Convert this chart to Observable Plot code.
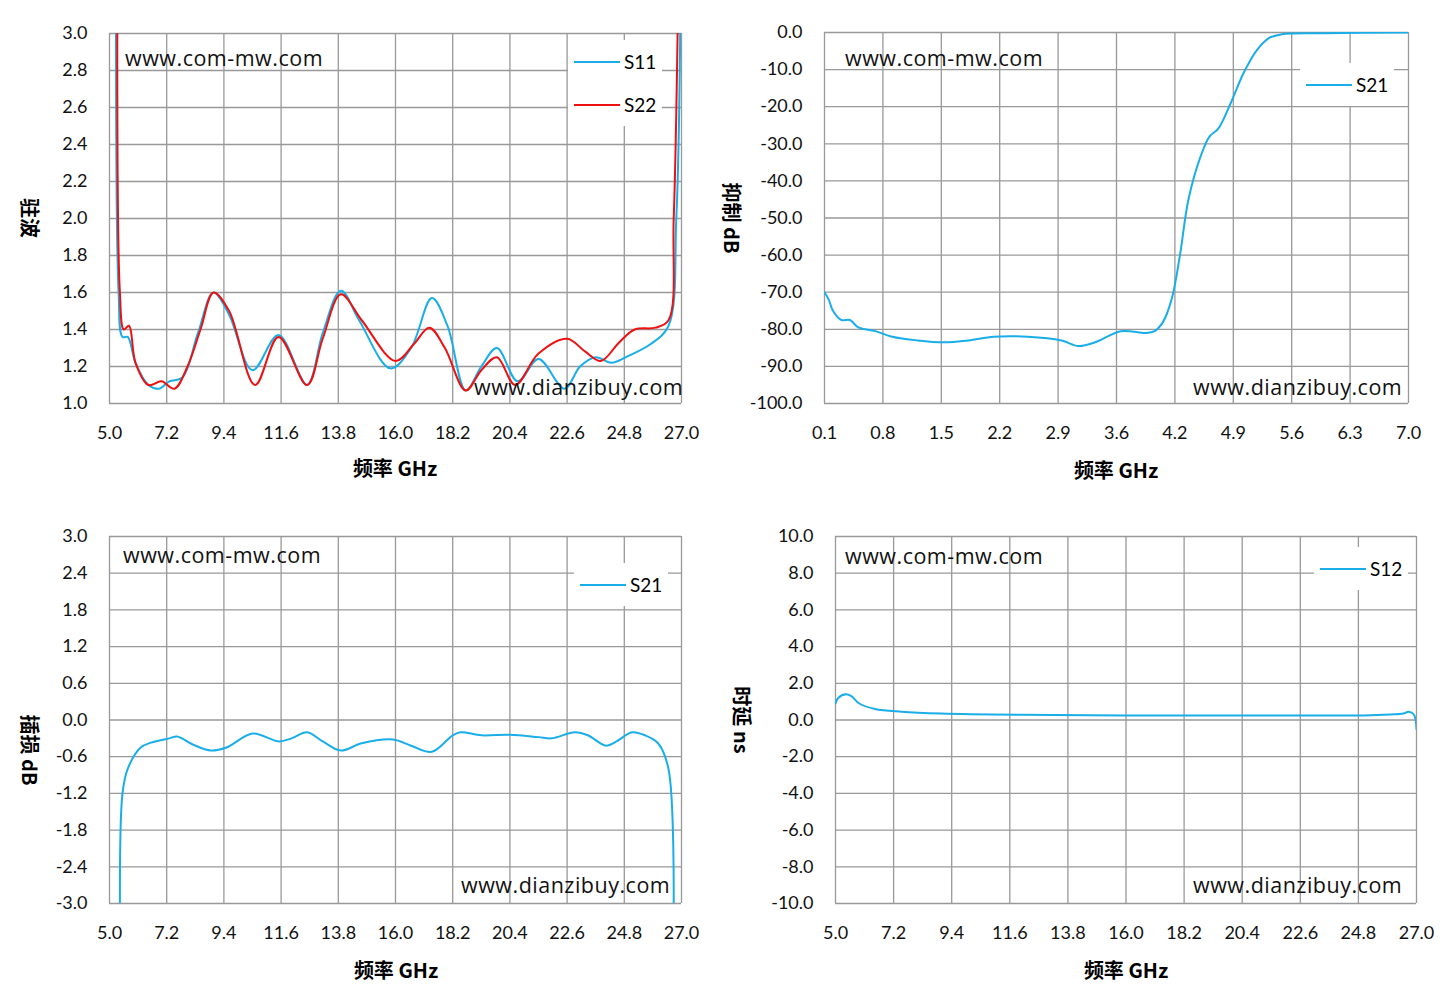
<!DOCTYPE html>
<html><head><meta charset="utf-8">
<script src="https://cdn.jsdelivr.net/npm/d3@7"></script>
<script src="https://cdn.jsdelivr.net/npm/@observablehq/plot@0.6"></script>
<style>
body{margin:0;background:#fff;font-family:Lato,"Noto Sans CJK SC",sans-serif}
#c{position:relative;width:1444px;height:995px}
.p{position:absolute}
.t{position:absolute;font-size:21.5px;color:#111;white-space:nowrap;font-family:"Open Sans",Lato,sans-serif;letter-spacing:0.5px}
.xl{position:absolute;font-size:20px;font-weight:bold;transform:translateX(-50%);white-space:nowrap;font-family:"Noto Sans CJK SC",sans-serif}
.yl{position:absolute;font-size:20px;font-weight:bold;transform:translate(-50%,-50%) rotate(90deg);white-space:nowrap;font-family:"Noto Sans CJK SC",sans-serif}
.lg{position:absolute;background:#fff;font-size:19px;font-family:Lato,sans-serif}
.lg div{display:flex;align-items:center;height:43px}
.lg span.l{display:inline-block;width:46px;height:0;border-top:2px solid;margin-right:4px}
</style></head><body><div id="c"></div>
<script>
// Panel 1: VSWR
const f11=[5.25,5.35,5.5,5.7,6.0,6.5,6.9,7.3,7.8,8.4,9.0,9.6,10.5,11.5,12.6,13.2,13.9,14.6,15.8,16.6,17.4,18.0,18.7,19.3,19.9,20.7,21.5,22.5,23.1,23.7,24.3,25.0,25.8,26.5,26.8,26.95];
const s11=[3.0,1.6,1.36,1.36,1.22,1.1,1.08,1.12,1.14,1.38,1.6,1.48,1.18,1.37,1.1,1.38,1.61,1.45,1.19,1.3,1.57,1.42,1.07,1.2,1.3,1.12,1.24,1.08,1.2,1.25,1.22,1.26,1.32,1.42,2.0,3.0];
const f22=[5.3,5.4,5.55,5.75,6.0,6.5,7.0,7.5,8.0,8.5,9.0,9.6,10.6,11.5,12.6,13.2,13.9,14.7,16.0,16.7,17.3,17.9,18.7,19.3,19.9,20.6,21.5,22.6,23.3,23.9,24.6,25.2,26.0,26.5,26.7,26.85];
const s22=[3.0,1.6,1.4,1.42,1.22,1.1,1.12,1.08,1.2,1.4,1.6,1.5,1.1,1.36,1.1,1.35,1.59,1.45,1.23,1.32,1.41,1.3,1.07,1.18,1.25,1.1,1.27,1.35,1.28,1.23,1.33,1.4,1.41,1.45,2.0,3.0];
// Panel 2: rejection
const f21r=[0.1,0.15,0.2,0.3,0.4,0.5,0.7,0.9,1.2,1.5,1.8,2.1,2.5,2.9,3.1,3.3,3.6,3.9,4.0,4.1,4.2,4.3,4.4,4.55,4.65,4.75,4.9,5.05,5.2,5.35,5.5,6.0,7.0];
const s21r=[-70,-72,-75,-77.5,-77.5,-79.5,-80.5,-82,-83,-83.5,-83,-82,-82,-83,-84.5,-83.5,-80.5,-81,-80.5,-78,-72,-60,-45,-33,-28,-26,-19,-11,-5,-1.5,-0.5,-0.2,0];
// Panel 3: insertion loss
const f21=[5.4,5.5,5.7,6.2,6.6,7.3,7.6,8.2,8.9,9.5,10.5,11.5,12.0,12.6,13.2,13.9,14.7,15.9,16.6,17.4,18.2,18.5,19.3,20.4,21.5,22.0,22.9,23.4,24.1,24.5,25.1,25.6,26.1,26.5,26.7];
const s21=[-3,-1.2,-0.8,-0.45,-0.37,-0.3,-0.27,-0.4,-0.5,-0.45,-0.22,-0.35,-0.3,-0.2,-0.35,-0.5,-0.38,-0.32,-0.42,-0.52,-0.25,-0.2,-0.25,-0.24,-0.28,-0.3,-0.2,-0.25,-0.42,-0.35,-0.2,-0.25,-0.38,-0.8,-3];
// Panel 4: group delay
const f12=[5.0,5.1,5.4,5.6,5.9,6.5,7.5,9,12,16,20,25,26,26.5,26.7,26.9,27.0];
const s12=[0.9,1.2,1.4,1.3,0.9,0.6,0.45,0.35,0.28,0.25,0.25,0.25,0.3,0.35,0.45,0.3,-0.5];

const xTicksA=d3.range(0,11).map(i=>+(5+2.2*i).toFixed(1));
const xLabelsB=["0.1","0.8","1.5","2.2","2.9","3.6","4.2","4.9","5.6","6.3","7.0"];
const xTicksB=d3.range(0,11).map(i=>0.1+0.69*i);
const C=document.getElementById("c");
const blue="#1aaee8", red="#ee1111";

function panel(o){
  const W=o.w,H=o.h;
  const marks=[
    Plot.ruleX(o.xt,{stroke:"#999",strokeWidth:1.3}),
    Plot.ruleY(o.yt,{stroke:"#999",strokeWidth:1.3}),
    Plot.axisX(o.xt,{tickSize:0,tickPadding:23,fontSize:18,label:null,tickFormat:o.xf||(d=>d.toFixed(1))}),
    Plot.axisY(o.yt,{tickSize:0,tickPadding:22,fontSize:18,label:null,tickFormat:d=>d.toFixed(1)}),
  ];
  for(const s of o.series){
    const data=s.x.map((x,i)=>({x,y:s.y[i]}));
    marks.push(Plot.line(data,{x:"x",y:"y",stroke:s.c,strokeWidth:2,curve:"catmull-rom",clip:true}));
  }
  const p=Plot.plot({width:W,height:H,marginLeft:o.ml,marginRight:W-o.xr,marginTop:o.mt,marginBottom:H-o.yb,
    x:{domain:o.xd,ticks:[],label:null},y:{domain:o.yd,ticks:[],label:null},style:{fontFamily:"Lato,sans-serif",color:"#111",fontSize:"18px"},marks});
  p.classList.add("p");p.style.left=o.left+"px";p.style.top=o.top+"px";
  C.appendChild(p);
}
panel({left:0,top:0,w:722,h:490,ml:109,xr:681,mt:33,yb:403,xd:[5,27],yd:[1,3],xt:xTicksA,yt:d3.range(1,3.01,0.2).map(v=>+v.toFixed(1)),
  series:[{x:f11,y:s11,c:blue},{x:f22,y:s22,c:red}]});
panel({left:722,top:0,w:722,h:490,ml:102,xr:686,mt:32,yb:403,xd:[0.1,7.0],yd:[-100,0],xt:xTicksB,xf:(d,i)=>xLabelsB[i],yt:d3.range(-100,0.1,10),
  series:[{x:f21r,y:s21r,c:blue}]});
panel({left:0,top:490,w:722,h:505,ml:109,xr:681,mt:46,yb:413,xd:[5,27],yd:[-3,3],xt:xTicksA,yt:d3.range(-3,3.01,0.6).map(v=>+v.toFixed(1)),
  series:[{x:f21,y:s21,c:blue}]});
panel({left:722,top:490,w:722,h:505,ml:113,xr:694,mt:46,yb:413,xd:[5,27],yd:[-10,10],xt:xTicksA,yt:d3.range(-10,10.1,2),
  series:[{x:f12,y:s12,c:blue}]});

function add(cls,html,x,y){const d=document.createElement("div");d.className=cls;d.innerHTML=html;d.style.left=x+"px";d.style.top=y+"px";C.appendChild(d);return d;}
add("t","www.com-mw.com",125,43);add("t","www.dianzibuy.com",474,372);
add("t","www.com-mw.com",845,43);add("t","www.dianzibuy.com",1193,372);
add("t","www.com-mw.com",123,540);add("t","www.dianzibuy.com",461,870);
add("t","www.com-mw.com",845,541);add("t","www.dianzibuy.com",1193,870);
add("xl","频率 GHz",395,453);add("xl","频率 GHz",1116,455);add("xl","频率 GHz",396,955);add("xl","频率 GHz",1126,955);
add("yl","驻波",30,218);add("yl","抑制 dB",732,218);add("yl","插损 dB",30,750);add("yl","时延 ns",742,720);
function leg(x,y,items){const d=add("lg",items.map(([c,n])=>`<div><span class="l" style="border-color:${c}"></span>${n}</div>`).join(""),x,y);d.style.padding="0 6px 0 6px";}
leg(568,40,[[blue,"S11"],[red,"S22"]]);
leg(1300,63,[[blue,"S21"]]);
leg(574,563,[[blue,"S21"]]);
leg(1314,547,[[blue,"S12"]]);
</script></body></html>
